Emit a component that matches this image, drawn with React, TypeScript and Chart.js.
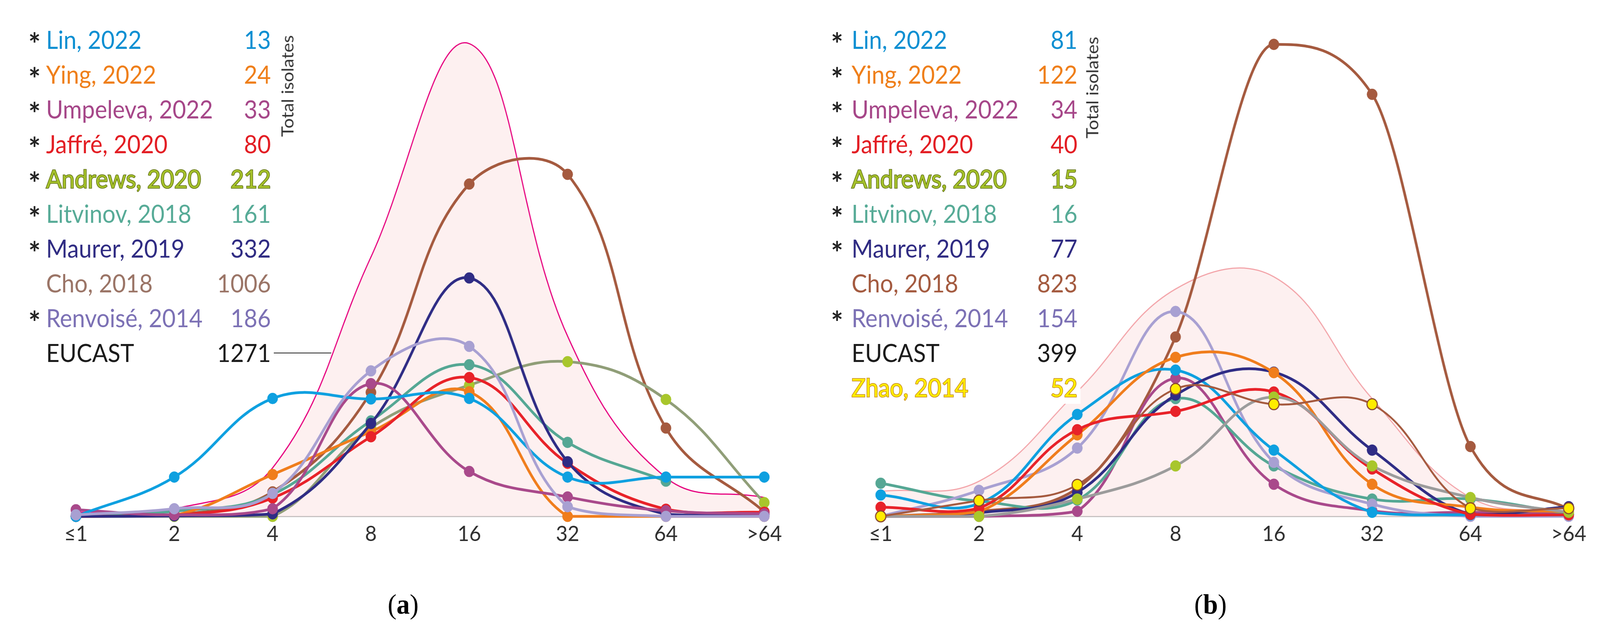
import React, { useEffect, useRef } from 'react';
import { Chart, registerables } from 'chart.js';

Chart.register(...registerables);

// MIC categories (x axis)
const micLabels = ['≤1', '2', '4', '8', '16', '32', '64', '>64'];

// ---------- Panel (a) series ----------
const aLin = [0, 7.7, 23.1, 23.0, 23.1, 7.7, 7.7, 7.7];
const aYing = [0, 0.2, 8.2, 16.6, 24.4, 0, 0, 0];
const aUmpeleva = [1.3, 0.3, 1.5, 26.0, 8.8, 3.8, 1.1, 0.5];
const aJaffre = [0, 0.2, 3.6, 15.6, 27.2, 10.4, 1.4, 0.8];
const aAndrews = [0, 0, 0, 17.4, 25.7, 30.3, 22.9, 2.7];
const aLitvinov = [0.2, 1.0, 4.3, 18.7, 29.7, 14.5, 6.9, null];
const aMaurer = [0, 0.1, 0.5, 18.2, 46.7, 10.7, 0.4, 0.3];
const aCho = [0, 0.3, 4.8, 24.3, 65.1, 67.0, 17.3, 0.9];
const aRenvoise = [0.3, 1.5, 4.5, 28.5, 33.3, 1.9, 0, 0];
const aEucast = [0.8, 1.5, 9.5, 50.8, 92.6, 35.3, 7.6, 3.7];

// ---------- Panel (b) series ----------
const bLin = [4.2, 2.5, 20.0, 28.7, 13.0, 0.8, 0.3, 0.3];
const bYing = [0, 0.9, 16.0, 31.2, 28.2, 6.3, 1.8, 0.9];
const bUmpeleva = [0, 0, 1.0, 27.1, 6.3, 1.1, 0.8, 0.5];
const bJaffre = [1.8, 1.6, 17.0, 20.6, 24.4, 9.3, 0.4, 0.3];
const bAndrews = [0, 0, 3.4, 9.9, 23.4, 9.9, 3.7, 0.8];
const bLitvinov = [6.5, 3.0, 3.2, 23.1, 9.9, 3.4, 3.4, 0.5];
const bMaurer = [0, 0.7, 4.7, 23.8, 28.3, 13.0, 0.4, 1.9];
const bCho = [0, 1.0, 5.5, 35.2, 92.6, 82.8, 13.7, 1.4];
const bRenvoise = [0, 5.1, 13.4, 40.2, 10.6, 2.4, 0, 0];
const bEucast = [4.9, 6.9, 24.5, 44.6, 47.0, 23.1, 3.7, 0.9];
const bZhao = [0, 3.1, 6.2, 25.0, 22.0, 22.0, 1.6, 1.6];

// ---------- Legend texts ----------
const aNames = ['Lin, 2022', 'Ying, 2022', 'Umpeleva, 2022', 'Jaffré, 2020', 'Andrews, 2020', 'Litvinov, 2018', 'Maurer, 2019', 'Cho, 2018', 'Renvoisé, 2014', 'EUCAST'];
const aTotals = ['13', '24', '33', '80', '212', '161', '332', '1006', '186', '1271'];
const aStars = [true, true, true, true, true, true, true, false, true, false];

const bNames = ['Lin, 2022', 'Ying, 2022', 'Umpeleva, 2022', 'Jaffré, 2020', 'Andrews, 2020', 'Litvinov, 2018', 'Maurer, 2019', 'Cho, 2018', 'Renvoisé, 2014', 'EUCAST', 'Zhao, 2014'];
const bTotals = ['81', '122', '34', '40', '15', '16', '77', '823', '154', '399', '52'];
const bStars = [true, true, true, true, true, true, true, false, true, false, false];

const axisTitle = 'Total isolates';

// ---------- styles ----------
type TextStyle = { color: string; stroke?: string };
const aTextStyles: TextStyle[] = [
  { color: '#0b8fd2' }, { color: '#ef7f1a' }, { color: '#a64789' }, { color: '#e31e24' },
  { color: '#a5c12a', stroke: '#5f6e16' }, { color: '#57ab97' }, { color: '#302c83' },
  { color: '#9b7567' }, { color: '#7c71b5' }, { color: '#1b1b1b' },
];
const bTextStyles: TextStyle[] = [
  { color: '#0b8fd2' }, { color: '#ef7f1a' }, { color: '#a64789' }, { color: '#e31e24' },
  { color: '#a5c12a', stroke: '#5f6e16' }, { color: '#57ab97' }, { color: '#302c83' },
  { color: '#a45b40' }, { color: '#7c71b5' }, { color: '#1b1b1b' }, { color: '#ffec00', stroke: '#c4861a' },
];

const FONT = 'Lato, "Open Sans", sans-serif';
const DESIGN_W = 4342;
const DESIGN_H = 1627;

function line(label: string, data: (number | null)[], color: string, extra: any = {}) {
  return {
    label,
    data,
    borderColor: color,
    backgroundColor: color,
    borderWidth: 7,
    pointRadius: 14,
    pointHoverRadius: 14,
    pointBackgroundColor: color,
    pointBorderColor: color,
    pointBorderWidth: 1,
    tension: 0.4,
    fill: false,
    clip: false,
    ...extra,
  };
}

function eucast(data: number[], color: string) {
  return {
    label: 'EUCAST',
    data,
    borderColor: color,
    backgroundColor: 'rgba(235,120,120,0.11)',
    borderWidth: 3,
    pointRadius: 0,
    pointHoverRadius: 0,
    tension: 0.4,
    fill: 'origin',
    clip: false,
    order: 100,
  };
}

const datasetsA = () => [
  line('Renvoisé, 2014', aRenvoise, '#a8a0d2'),
  line('Lin, 2022', aLin, '#0ea0e0'),
  line('Umpeleva, 2022', aUmpeleva, '#a9498b'),
  line('Maurer, 2019', aMaurer, '#2f2c85'),
  line('Jaffré, 2020', aJaffre, '#e82229'),
  line('Ying, 2022', aYing, '#f07d1c'),
  line('Andrews, 2020', aAndrews, '#909e78', { pointBackgroundColor: '#a8c62c', pointBorderColor: '#a8c62c' }),
  line('Litvinov, 2018', aLitvinov, '#55a794'),
  line('Cho, 2018', aCho, '#a55a3f'),
  eucast(aEucast, '#e6007e'),
];

const datasetsB = () => [
  line('Zhao, 2014', bZhao, '#a55a3f', { pointBackgroundColor: '#ffec00', pointBorderColor: '#8a4a30', pointBorderWidth: 3, borderWidth: 5 }),
  line('Andrews, 2020', bAndrews, '#9c9c9c', { pointBackgroundColor: '#a8c62c', pointBorderColor: '#a8c62c' }),
  line('Jaffré, 2020', bJaffre, '#e82229'),
  line('Ying, 2022', bYing, '#f07d1c'),
  line('Maurer, 2019', bMaurer, '#2f2c85'),
  line('Lin, 2022', bLin, '#0ea0e0'),
  line('Renvoisé, 2014', bRenvoise, '#a8a0d2'),
  line('Litvinov, 2018', bLitvinov, '#55a794'),
  line('Umpeleva, 2022', bUmpeleva, '#a9498b'),
  line('Cho, 2018', bCho, '#a55a3f', { cubicInterpolationMode: 'monotone' }),
  eucast(bEucast, '#f3a5aa'),
];

type PanelProps = {
  left: number;
  width: number;
  height: number;
  padLeft: number;
  padRight: number;
  makeData: () => any[];
};

function PanelChart({ left, width, height, padLeft, padRight, makeData }: PanelProps) {
  const ref = useRef<HTMLCanvasElement | null>(null);
  useEffect(() => {
    if (!ref.current) return;
    const chart = new Chart(ref.current, {
      type: 'line',
      data: { labels: micLabels, datasets: makeData() },
      options: {
        animation: false,
        responsive: false,
        devicePixelRatio: 1,
        events: [],
        // chart area: top 11, bottom 1321 (canvas 1420 - 9 - axis 90)
        layout: { padding: { left: padLeft, right: padRight, top: 11, bottom: 9 } },
        plugins: { legend: { display: false }, tooltip: { enabled: false } },
        scales: {
          x: {
            type: 'category',
            offset: false,
            grid: { display: false, drawTicks: false },
            border: { display: true, color: '#c6c6c6', width: 3 },
            ticks: {
              color: '#2e2e2e',
              font: { family: FONT, size: 55, lineHeight: 1.2 },
              padding: 12,
              maxRotation: 0,
              autoSkip: false,
            },
          },
          y: { display: false, min: 0, max: 100 },
        },
      } as any,
    });
    return () => chart.destroy();
  }, []);
  return (
    <canvas
      ref={ref}
      width={width}
      height={height}
      style={{ position: 'absolute', left, top: 0, width, height }}
    />
  );
}

type LegendProps = {
  names: string[];
  totals: string[];
  stars: boolean[];
  styles: TextStyle[];
  starX: number;
  nameX: number;
  numRight: number;
  whiteRow?: number;
};

function Legend({ names, totals, stars, styles, starX, nameX, numRight, whiteRow }: LegendProps) {
  const fs = 63;
  return (
    <>
      {names.map((n, i) => {
        const base = 125 + 89 * i;
        const top = base - 62;
        const st = styles[i];
        const textStyle: any = {
          color: st.color,
          fontFamily: FONT,
          fontSize: fs,
          lineHeight: `${fs * 1.2}px`,
          whiteSpace: 'nowrap',
        };
        if (st.stroke) {
          textStyle.WebkitTextStroke = `3px ${st.stroke}`;
          textStyle.paintOrder = 'stroke fill';
        }
        return (
          <React.Fragment key={i}>
            {whiteRow === i && (
              <div style={{ position: 'absolute', left: nameX - 6, top: top + 8, width: numRight - nameX + 14, height: fs * 1.2 - 4, background: '#ffffff' }} />
            )}
            {stars[i] && (
              <div style={{ position: 'absolute', left: starX - 2, top: top + 10, fontFamily: FONT, fontWeight: 700, fontSize: 78, lineHeight: '78px', color: '#222222' }}>*</div>
            )}
            <div style={{ position: 'absolute', left: nameX, top, ...textStyle }}>{n}</div>
            <div style={{ position: 'absolute', left: numRight - 400, width: 400, top, textAlign: 'right', ...textStyle }}>{totals[i]}</div>
          </React.Fragment>
        );
      })}
    </>
  );
}

function RotTitle({ x, y }: { x: number; y: number }) {
  return (
    <div
      style={{
        position: 'absolute',
        left: x,
        top: y,
        transform: 'translate(-50%, -50%) rotate(-90deg)',
        fontFamily: FONT,
        fontSize: 46,
        lineHeight: '56px',
        color: '#333333',
        whiteSpace: 'nowrap',
      }}
    >
      {axisTitle}
    </div>
  );
}

function Caption({ x, letter }: { x: number; letter: string }) {
  return (
    <div
      style={{
        position: 'absolute',
        left: x - 150,
        width: 300,
        top: 1510,
        textAlign: 'center',
        fontFamily: '"Liberation Serif", "Times New Roman", serif',
        fontSize: 72,
        lineHeight: '72px',
        color: '#000000',
      }}
    >
      (<b>{letter}</b>)
    </div>
  );
}

export default function App() {
  const vw = typeof window !== 'undefined' ? window.innerWidth : DESIGN_W;
  const vh = typeof window !== 'undefined' ? window.innerHeight : DESIGN_H;
  const sx = Math.min(1, vw / DESIGN_W);
  const sy = Math.min(1, vh / DESIGN_H);
  return (
    <div style={{ position: 'fixed', left: 0, top: 0, width: DESIGN_W, height: DESIGN_H, background: '#ffffff', overflow: 'hidden', transform: `scale(${sx}, ${sy})`, transformOrigin: '0 0' }}>
      <PanelChart left={0} width={2170} height={1420} padLeft={206} padRight={96} makeData={datasetsA} />
      <PanelChart left={2180} width={2162} height={1420} padLeft={210} padRight={85} makeData={datasetsB} />

      <Legend names={aNames} totals={aTotals} stars={aStars} styles={aTextStyles} starX={79} nameX={125} numRight={735} />
      <Legend names={bNames} totals={bTotals} stars={bStars} styles={bTextStyles} starX={2257} nameX={2311} numRight={2924} whiteRow={10} />

      <RotTitle x={780} y={220} />
      <RotTitle x={2964} y={224} />

      <div style={{ position: 'absolute', left: 743, top: 902, width: 156, height: 2, background: '#222222' }} />

      <Caption x={1094} letter="a" />
      <Caption x={3285} letter="b" />
    </div>
  );
}
